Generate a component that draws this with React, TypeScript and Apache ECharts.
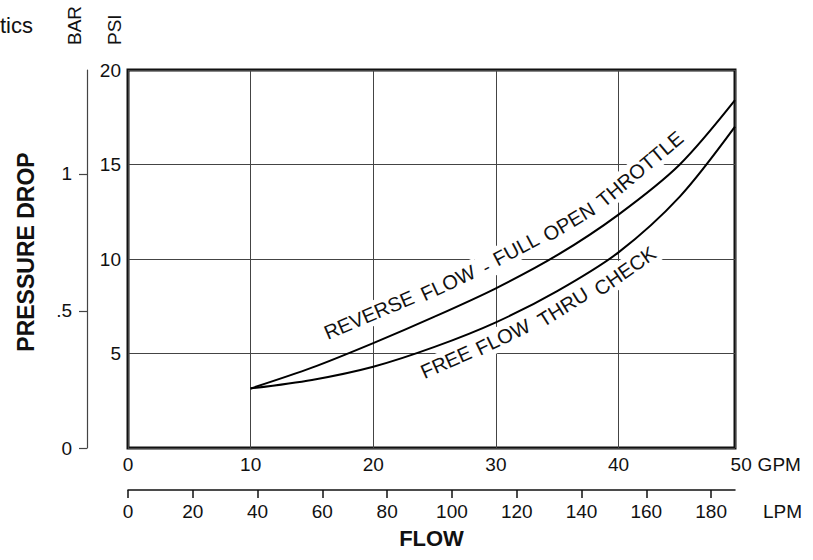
import React, { useEffect, useRef } from "react";
import * as echarts from "echarts";

// ---- data ----
const gpmTicks = [0, 10, 20, 30, 40, 50];
const lpmTicks = [0, 20, 40, 60, 80, 100, 120, 140, 160, 180];
const psiTicks = [5, 10, 15, 20];
const barTicks = [0, 0.5, 1];
const gpmFrameMax = 49.5; // flow at the right edge of the frame
const psiMax = 20;
const LPM_PER_GPM = 3.78541;
const PSI_PER_BAR = 14.5038;

const reverseGpm = [10, 15, 20, 25, 30, 35, 40, 45, 49.5];
const reversePsi = [3.15, 4.25, 5.55, 6.95, 8.45, 10.2, 12.35, 15.0, 18.4];
const freeGpm = [10, 15, 20, 25, 30, 35, 40, 45, 49.5];
const freePsi = [3.15, 3.6, 4.3, 5.35, 6.65, 8.3, 10.35, 13.3, 17.0];

const reverseLabel = "REVERSE FLOW - FULL OPEN THROTTLE";
const freeLabel = "FREE FLOW THRU CHECK";
const titleFragment = "tics";

const FONT = '"Liberation Sans", Arial, sans-serif';

export default function App() {
  const ref = useRef<HTMLDivElement>(null);

  useEffect(() => {
    if (!ref.current) return;
    const chart = echarts.init(ref.current, undefined, { renderer: "svg" });

    const plotLeft = 128;
    const plotTop = 70;
    const plotWidth = 607;
    const plotHeight = 378;

    // word placements along the curves (layout only)
    const reverseLayout = [
      { x: 369, y: 315, a: 23 },
      { x: 448, y: 283, a: 25 },
      { x: 486, y: 267, a: 27 },
      { x: 516, y: 249, a: 28 },
      { x: 569, y: 222, a: 31 },
      { x: 640, y: 169, a: 40 },
    ];
    const freeLayout = [
      { x: 446, y: 362, a: 24 },
      { x: 503, y: 337, a: 26 },
      { x: 563, y: 307, a: 32 },
      { x: 625, y: 271, a: 35 },
    ];
    const wordEls = (label: string, layout: { x: number; y: number; a: number }[]) =>
      label.split(" ").map((w, i) => ({
        type: "text",
        x: layout[i].x,
        y: layout[i].y,
        rotation: (layout[i].a * Math.PI) / 180,
        z: 1,
        style: {
          text: w,
          fontFamily: FONT,
          fontSize: 20,
          fill: "#111",
          align: "center",
          verticalAlign: "middle",
          backgroundColor: "#fff",
          padding: [2, 5],
        },
      }));

    const axisText = { fontFamily: FONT, fontSize: 19, color: "#111" };

    chart.setOption({
      animation: false,
      backgroundColor: "#fff",
      grid: [
        {
          left: plotLeft,
          top: plotTop,
          width: plotWidth,
          height: plotHeight,
          show: true,
          borderColor: "#111",
          borderWidth: 3,
          backgroundColor: "transparent",
        },
        {
          left: plotLeft,
          top: plotTop,
          width: (plotWidth * 50) / gpmFrameMax,
          height: plotHeight,
          show: false,
        },
      ],
      xAxis: [
        {
          type: "value",
          gridIndex: 0,
          position: "bottom",
          min: 0,
          max: gpmFrameMax,
          interval: 10,
          axisLine: { show: false, onZero: false },
          axisTick: { show: false },
          axisLabel: { show: false },
          splitLine: { show: true, lineStyle: { color: "#444", width: 1 } },
          name: "FLOW",
          nameLocation: "middle",
          nameGap: 79,
          nameTextStyle: { fontFamily: FONT, fontSize: 22, fontWeight: "bold", color: "#111" },
        },
        {
          type: "value",
          gridIndex: 0,
          position: "bottom",
          offset: 42,
          min: 0,
          max: gpmFrameMax * LPM_PER_GPM,
          axisLine: { show: true, onZero: false, lineStyle: { color: "#111", width: 1.5 } },
          axisTick: { show: true, customValues: lpmTicks, length: 8, lineStyle: { color: "#111", width: 1.5 } },
          axisLabel: { ...axisText, customValues: lpmTicks, margin: 12 },
          splitLine: { show: false },
          name: "LPM",
          nameLocation: "end",
          nameGap: 28,
          nameTextStyle: { ...axisText, verticalAlign: "top", padding: [12, 0, 0, 0] },
        },
        {
          type: "value",
          gridIndex: 1,
          position: "bottom",
          min: 0,
          max: 50,
          interval: 10,
          axisLine: { show: false, onZero: false },
          axisTick: { show: false },
          splitLine: { show: false },
          axisLabel: { ...axisText, customValues: gpmTicks, margin: 7 },
          name: "GPM",
          nameLocation: "end",
          nameGap: 16,
          nameTextStyle: { ...axisText, verticalAlign: "top", padding: [7, 0, 0, 0] },
        },
      ],
      yAxis: [
        {
          type: "value",
          gridIndex: 0,
          position: "left",
          min: 0,
          max: psiMax,
          interval: 5,
          axisLine: { show: false, onZero: false },
          axisTick: { show: false },
          axisLabel: { ...axisText, customValues: psiTicks, margin: 7 },
          splitLine: { show: true, lineStyle: { color: "#444", width: 1 } },
        },
        {
          type: "value",
          gridIndex: 0,
          position: "left",
          offset: 41,
          min: 0,
          max: psiMax / PSI_PER_BAR,
          axisLine: { show: true, onZero: false, lineStyle: { color: "#444", width: 1.2 } },
          axisTick: { show: true, customValues: barTicks, length: 8, lineStyle: { color: "#444", width: 1.2 } },
          axisLabel: {
            ...axisText,
            customValues: barTicks,
            margin: 15,
            formatter: (v: number) => String(v).replace(/^0\./, "."),
          },
          splitLine: { show: false },
          name: "PRESSURE DROP",
          nameLocation: "middle",
          nameGap: 50,
          nameTextStyle: {
            fontFamily: FONT,
            fontSize: 23,
            fontWeight: "bold",
            color: "#111",
            padding: [0, 0, 0, 14],
          },
        },
        { type: "value", gridIndex: 1, show: false, min: 0, max: psiMax },
      ],
      series: [
        {
          name: reverseLabel,
          type: "line",
          xAxisIndex: 0,
          yAxisIndex: 0,
          data: reverseGpm.map((g, i) => [g, reversePsi[i]]),
          smooth: 0.3,
          symbol: "none",
          lineStyle: { color: "#000", width: 2 },
          z: 3,
        },
        {
          name: freeLabel,
          type: "line",
          xAxisIndex: 0,
          yAxisIndex: 0,
          data: freeGpm.map((g, i) => [g, freePsi[i]]),
          smooth: 0.3,
          symbol: "none",
          lineStyle: { color: "#000", width: 2 },
          z: 3,
        },
      ],
      graphic: {
        elements: [
          {
            type: "text",
            x: 0,
            y: 25,
            style: {
              text: titleFragment,
              fontFamily: FONT,
              fontSize: 22,
              fill: "#111",
              align: "left",
              verticalAlign: "middle",
            },
          },
          {
            type: "text",
            x: 74.5,
            y: 45,
            rotation: Math.PI / 2,
            style: { text: "BAR", fontFamily: FONT, fontSize: 19, fill: "#111", align: "left", verticalAlign: "middle" },
          },
          {
            type: "text",
            x: 114.5,
            y: 45,
            rotation: Math.PI / 2,
            style: { text: "PSI", fontFamily: FONT, fontSize: 19, fill: "#111", align: "left", verticalAlign: "middle" },
          },
          ...wordEls(reverseLabel, reverseLayout),
          ...wordEls(freeLabel, freeLayout),
        ],
      },
    });

    return () => chart.dispose();
  }, []);

  return (
    <div
      ref={ref}
      style={{ position: "absolute", left: 0, top: 0, width: 813, height: 560, background: "#fff" }}
    />
  );
}
